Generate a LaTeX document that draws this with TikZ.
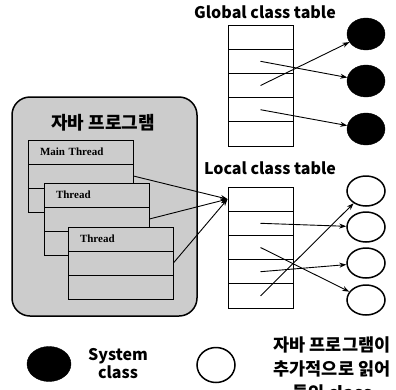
\documentclass[tikz,border=0pt]{standalone}
\usepackage{fontspec}
\usepackage{tikz}
\usetikzlibrary{shapes.geometric, arrows.meta}
\newfontfamily\krfont{Noto Sans CJK KR}
\newfontfamily\thfont{Liberation Serif}

\begin{document}
\begin{tikzpicture}[x=1pt, y=-1pt,
    cell/.style={draw, line width=0.9pt, minimum width=65pt, minimum height=24.2pt, inner sep=0pt},
    thr/.style={draw, line width=0.8pt, fill=gray!40, minimum width=105pt, minimum height=24pt,
        inner sep=0pt, text width=81pt, align=left, font=\thfont\bfseries\fontsize{11}{12}\selectfont},
    sys/.style={ellipse, draw, fill=black, minimum width=38pt, minimum height=32pt},
    usr/.style={ellipse, draw, line width=1.5pt, minimum width=38pt, minimum height=30pt},
    link/.style={line width=0.9pt, -{Stealth[length=7pt, width=5pt]}},
    lbl/.style={font=\krfont\bfseries\fontsize{16}{18}\selectfont, align=center}
]
    \useasboundingbox (0,0) rectangle (396,389);

    % program box
    \draw[line width=1.5pt, fill=gray!40, rounded corners=18pt] (12,97) rectangle (197,316);
    \node[lbl, font=\krfont\bfseries\fontsize{18}{20}\selectfont] (prog) at (103,123) {자바 프로그램};

    % threads
    \node[thr] (m1) at (80.5,152) {Main Thread};
    \node[thr] (m2) at (80.5,176) {};
    \node[thr] (m3) at (80.5,200) {};
    \node[thr] (t1) at (96.5,195) {Thread};
    \node[thr] (t2) at (96.5,219) {};
    \node[thr] (t3) at (96.5,243) {};
    \node[thr] (u1) at (120.5,239) {Thread};
    \node[thr] (u2) at (120.5,263) {};
    \node[thr] (u3) at (120.5,287) {};

    % class tables
    \node[lbl] (gtitle) at (265,12) {Global class table};
    \foreach \i/\y in {1/37.1, 2/61.3, 3/85.5, 4/109.7, 5/133.9}
        \node[cell] (g\i) at (260.5,\y) {};
    \node[lbl] (ltitle) at (270,168) {Local class table};
    \foreach \i/\y in {1/199.1, 2/223.3, 3/247.5, 4/271.7, 5/295.9}
        \node[cell] (l\i) at (260.5,\y) {};

    % classes
    \node[sys] (b1) at (366,34) {};
    \node[sys] (b2) at (366,81) {};
    \node[sys] (b3) at (366,129) {};
    \node[usr] (w1) at (366,191) {};
    \node[usr] (w2) at (366,227) {};
    \node[usr] (w3) at (366,263) {};
    \node[usr] (w4) at (366,300) {};

    \draw[link] (g3.center) -- (b1);
    \draw[link] (g2.center) -- (b2);
    \draw[link] (g4.center) -- (b3);
    \draw[link] (l5.center) -- (w1);
    \draw[link] (l2.center) -- (w2);
    \draw[link] (l4.center) -- (w3);
    \draw[link] (l3.center) -- (w4);
    \draw[link] (m2.east) -- (l1.west);
    \draw[link] (t2.east) -- (l1.west);
    \draw[link] (u2.east) -- (l1.west);

    % legend
    \node[sys, minimum width=44pt, minimum height=35pt] (keysys) at (49,364) {};
    \node[lbl] (syslbl) at (118,364) {System\\class};
    \node[usr, minimum width=38pt, minimum height=35pt] (keyusr) at (216,365) {};
    \node[lbl, font=\krfont\bfseries\fontsize{17.5}{24}\selectfont] (usrlbl) at (332,369)
        {자바 프로그램이\\추가적으로 읽어\\들인 class};
\end{tikzpicture}
\end{document}
